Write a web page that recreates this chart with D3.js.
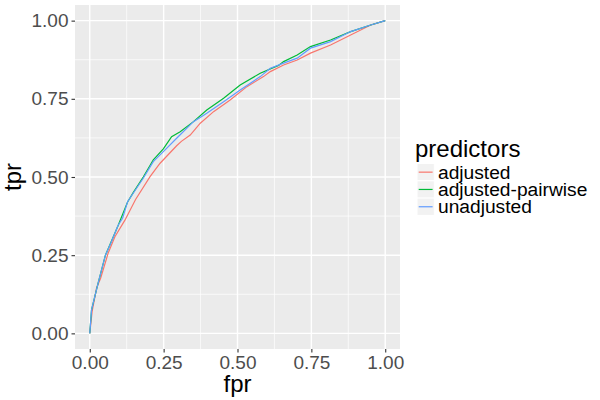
<!DOCTYPE html>
<html>
<head>
<meta charset="utf-8">
<script src="https://cdn.jsdelivr.net/npm/d3@7"></script>
<style>
body { margin: 0; background: #fff; }
text { font-family: "Liberation Sans", Arial, sans-serif; }
</style>
</head>
<body>
<svg id="chart" width="600" height="400"></svg>
<script>
// ROC curves
var adjFpr = [0, 0.008, 0.023, 0.037, 0.062, 0.085, 0.119, 0.155, 0.204, 0.238, 0.294, 0.310, 0.340, 0.374, 0.419, 0.475, 0.532, 0.588, 0.611, 0.656, 0.702, 0.747, 0.815, 0.883, 0.951, 1];
var adjTpr = [0, 0.07, 0.145, 0.177, 0.256, 0.309, 0.362, 0.428, 0.501, 0.544, 0.600, 0.614, 0.634, 0.672, 0.709, 0.746, 0.789, 0.821, 0.837, 0.858, 0.874, 0.896, 0.922, 0.954, 0.986, 1];

var pairFpr = [0, 0.006, 0.028, 0.053, 0.071, 0.096, 0.128, 0.147, 0.181, 0.215, 0.249, 0.277, 0.306, 0.351, 0.396, 0.453, 0.509, 0.577, 0.639, 0.656, 0.702, 0.747, 0.815, 0.883, 0.951, 1];
var pairTpr = [0, 0.075, 0.16, 0.25, 0.29, 0.345, 0.42, 0.45, 0.50, 0.555, 0.59, 0.629, 0.645, 0.677, 0.714, 0.752, 0.794, 0.832, 0.857, 0.869, 0.890, 0.917, 0.938, 0.965, 0.986, 1];

var unadjFpr = [0, 0.006, 0.028, 0.053, 0.071, 0.096, 0.111, 0.128, 0.147, 0.181, 0.215, 0.249, 0.294, 0.306, 0.351, 0.396, 0.453, 0.509, 0.577, 0.611, 0.656, 0.702, 0.747, 0.815, 0.883, 0.951, 1];
var unadjTpr = [0, 0.075, 0.16, 0.25, 0.288, 0.346, 0.368, 0.421, 0.448, 0.496, 0.549, 0.581, 0.624, 0.635, 0.677, 0.704, 0.741, 0.778, 0.821, 0.848, 0.864, 0.880, 0.912, 0.933, 0.965, 0.986, 1];

var seriesNames = ["adjusted", "adjusted-pairwise", "unadjusted"];
var seriesColors = ["#F8766D", "#00BA38", "#619CFF"];
var tickValues = [0, 0.25, 0.5, 0.75, 1];
var minorValues = [0.125, 0.375, 0.625, 0.875];

var series = [
  {name: seriesNames[0], fpr: adjFpr, tpr: adjTpr},
  {name: seriesNames[1], fpr: pairFpr, tpr: pairTpr},
  {name: seriesNames[2], fpr: unadjFpr, tpr: unadjTpr}
];

var svg = d3.select("#chart");

var x = d3.scaleLinear().domain([-0.05, 1.05]).range([75, 400]);
var y = d3.scaleLinear().domain([-0.05, 1.05]).range([349, 5]);
var color = d3.scaleOrdinal().domain(seriesNames).range(seriesColors);

// panel
svg.append("rect")
  .attr("x", 75).attr("y", 5)
  .attr("width", 325).attr("height", 344)
  .attr("fill", "#EBEBEB");

// minor grid
minorValues.forEach(function(v) {
  svg.append("line").attr("x1", x(v)).attr("x2", x(v)).attr("y1", 5).attr("y2", 349)
    .attr("stroke", "#fff").attr("stroke-width", 0.7);
  svg.append("line").attr("y1", y(v)).attr("y2", y(v)).attr("x1", 75).attr("x2", 400)
    .attr("stroke", "#fff").attr("stroke-width", 0.7);
});
// major grid
tickValues.forEach(function(v) {
  svg.append("line").attr("x1", x(v)).attr("x2", x(v)).attr("y1", 5).attr("y2", 349)
    .attr("stroke", "#fff").attr("stroke-width", 1.4);
  svg.append("line").attr("y1", y(v)).attr("y2", y(v)).attr("x1", 75).attr("x2", 400)
    .attr("stroke", "#fff").attr("stroke-width", 1.4);
});

var line = d3.line()
  .x(function(d) { return x(d[0]); })
  .y(function(d) { return y(d[1]); });

series.forEach(function(s) {
  var pts = s.fpr.map(function(f, i) { return [f, s.tpr[i]]; });
  svg.append("path")
    .datum(pts)
    .attr("d", line)
    .attr("fill", "none")
    .attr("stroke", color(s.name))
    .attr("stroke-width", 1.2);
});

// axes
var fmt = d3.format(".2f");
var xAxis = svg.append("g").attr("transform", "translate(0,349)")
  .call(d3.axisBottom(x).tickValues(tickValues).tickFormat(fmt).tickSize(3.5).tickPadding(3.5));
var yAxis = svg.append("g").attr("transform", "translate(75,0)")
  .call(d3.axisLeft(y).tickValues(tickValues).tickFormat(fmt).tickSize(3.5).tickPadding(3));

[xAxis, yAxis].forEach(function(a) {
  a.select(".domain").remove();
  a.selectAll(".tick line").attr("stroke", "#333333").attr("stroke-width", 1.1);
  a.selectAll(".tick text")
    .attr("fill", "#4D4D4D")
    .style("font-size", "19px")
    .style("font-family", "'Liberation Sans', Arial, sans-serif");
});

// axis titles
svg.append("text")
  .attr("x", 237.5).attr("y", 392)
  .attr("text-anchor", "middle")
  .style("font-size", "24px")
  .text("fpr");
svg.append("text")
  .attr("transform", "translate(21,177) rotate(-90)")
  .attr("text-anchor", "middle")
  .style("font-size", "24px")
  .text("tpr");

// legend
var legend = svg.append("g").attr("transform", "translate(415,0)");
legend.append("text")
  .attr("x", 0).attr("y", 157)
  .style("font-size", "24px")
  .text("predictors");

var rows = legend.selectAll(".key")
  .data(seriesNames)
  .enter().append("g")
  .attr("class", "key")
  .attr("transform", function(d, i) { return "translate(2," + (163.5 + i * 17.3) + ")"; });

rows.append("rect")
  .attr("width", 17.3).attr("height", 17.3)
  .attr("fill", "#F2F2F2")
  .attr("stroke", "#fff").attr("stroke-width", 1);
rows.append("line")
  .attr("x1", 1.7).attr("x2", 15.6)
  .attr("y1", 8.65).attr("y2", 8.65)
  .attr("stroke", function(d) { return color(d); })
  .attr("stroke-width", 1.2);
rows.append("text")
  .attr("x", 21).attr("y", 8.65)
  .attr("dy", "0.35em")
  .style("font-size", "19.2px")
  .text(function(d) { return d; });
</script>
</body>
</html>
